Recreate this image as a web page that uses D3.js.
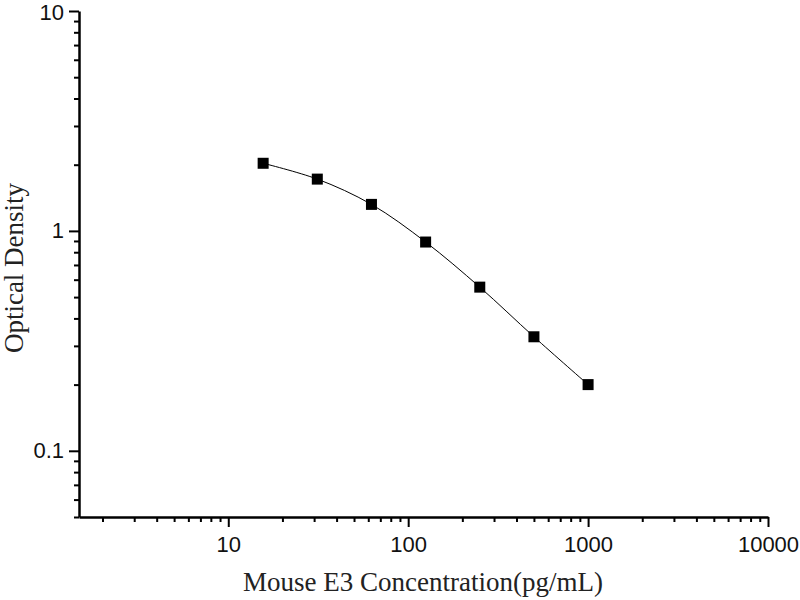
<!DOCTYPE html>
<html>
<head>
<meta charset="utf-8">
<script src="https://cdn.jsdelivr.net/npm/d3@7"></script>
<style>
  body { margin: 0; background: #fff; }
  svg .tick text { font-size: 22px; font-family: "Liberation Sans", Arial, sans-serif; }
</style>
</head>
<body>
<div id="main"></div>
<script>
const concentrations = [15.625, 31.25, 62.5, 125, 250, 500, 1000];
const densities = [2.03, 1.72, 1.32, 0.89, 0.555, 0.33, 0.2];
const xTickValues = [10, 100, 1000, 10000];
const yTickValues = [0.1, 1, 10];

const width = 800;
const height = 600;
const margin = { left: 79, right: 32, top: 11, bottom: 83 };

const svg = d3.select('#main')
  .append('svg')
  .attr('width', width)
  .attr('height', height);

const x = d3.scaleLog()
  .domain([1.48, 10000])
  .range([margin.left, width - margin.right]);

const y = d3.scaleLog()
  .domain([0.05, 10])
  .range([height - margin.bottom, margin.top]);

// minor ticks for each decade
const xMinor = [];
for (let e = 0; e <= 3; e++) {
  for (let k = 2; k <= 9; k++) {
    const v = k * Math.pow(10, e);
    if (v >= 1.48 && v < 10000) xMinor.push(v);
  }
}
const yMinor = [];
for (let e = -2; e <= 0; e++) {
  for (let k = 2; k <= 9; k++) {
    const v = k * Math.pow(10, e);
    if (v >= 0.05 && v < 10) yMinor.push(v);
  }
}

const axisY = height - margin.bottom;

svg.append('g')
  .attr('transform', `translate(0,${axisY})`)
  .call(d3.axisBottom(x).tickValues(xMinor).tickSize(5).tickFormat(''))
  .call((g) => g.select('.domain').remove())
  .selectAll('line').attr('stroke-width', 2);

svg.append('g')
  .attr('transform', `translate(${margin.left},0)`)
  .call(d3.axisLeft(y).tickValues(yMinor).tickSize(5).tickFormat(''))
  .call((g) => g.select('.domain').remove())
  .selectAll('line').attr('stroke-width', 2);

const xAxis = svg.append('g')
  .attr('transform', `translate(0,${axisY})`)
  .call(d3.axisBottom(x).tickValues(xTickValues).tickSize(10).tickSizeOuter(0).tickPadding(9).tickFormat(d3.format('d')));
xAxis.select('.domain').attr('stroke-width', 2.5);
xAxis.selectAll('line').attr('stroke-width', 2);
xAxis.selectAll('text').attr('fill', '#111');

const yAxis = svg.append('g')
  .attr('transform', `translate(${margin.left},0)`)
  .call(d3.axisLeft(y).tickValues(yTickValues).tickSize(10).tickSizeOuter(0).tickPadding(5).tickFormat((d) => String(d)));
yAxis.select('.domain').attr('stroke-width', 2.5);
yAxis.selectAll('line').attr('stroke-width', 2);
yAxis.selectAll('text').attr('fill', '#111');
// keep the top label inside the picture
yAxis.selectAll('.tick text').filter((d) => d === 10).attr('dy', '0.4em');

const points = concentrations.map((c, i) => ({ c, od: densities[i] }));

const line = d3.line()
  .x((d) => x(d.c))
  .y((d) => y(d.od))
  .curve(d3.curveCatmullRom);

svg.append('path')
  .datum(points)
  .attr('d', line)
  .attr('fill', 'none')
  .attr('stroke', '#000')
  .attr('stroke-width', 1);

const s = 11;
svg.selectAll('.pt')
  .data(points)
  .enter()
  .append('rect')
  .classed('pt', true)
  .attr('x', (d) => x(d.c) - s / 2)
  .attr('y', (d) => y(d.od) - s / 2)
  .attr('width', s)
  .attr('height', s)
  .attr('fill', '#000');

svg.append('text')
  .attr('x', 423)
  .attr('y', 591)
  .attr('text-anchor', 'middle')
  .attr('font-family', '"Liberation Serif", "Times New Roman", serif')
  .attr('font-size', 27)
  .attr('fill', '#222')
  .text('Mouse E3 Concentration(pg/mL)');

svg.append('text')
  .attr('transform', `translate(23,${(margin.top + axisY) / 2 + 4}) rotate(-90)`)
  .attr('text-anchor', 'middle')
  .attr('font-family', '"Liberation Serif", "Times New Roman", serif')
  .attr('font-size', 27)
  .attr('fill', '#222')
  .text('Optical Density');
</script>
</body>
</html>
